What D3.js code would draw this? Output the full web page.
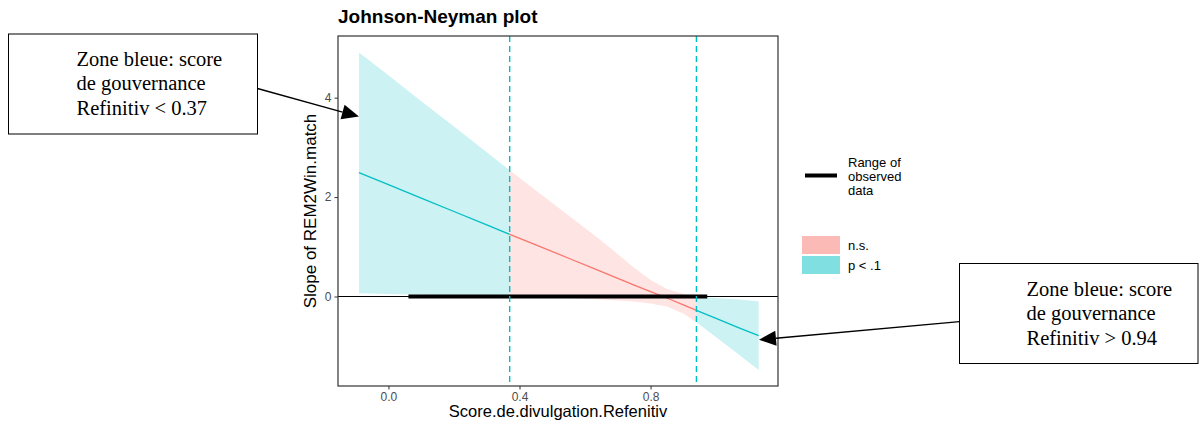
<!DOCTYPE html>
<html>
<head>
<meta charset="utf-8">
<script src="https://cdn.jsdelivr.net/npm/d3@7"></script>
<style>
  body { margin: 0; background: #fff; }
  svg { display: block; }
</style>
</head>
<body>
<div id="chart"></div>
<script>
// values
const modX   = [-0.09, 0.0, 0.1, 0.2, 0.3, 0.37, 0.45, 0.55, 0.65, 0.75, 0.8, 0.85, 0.9, 0.94, 1.0, 1.07, 1.13];
const slope  = [2.49, 2.25, 1.98, 1.71, 1.44, 1.25, 1.04, 0.77, 0.50, 0.23, 0.10, -0.03, -0.17, -0.28, -0.44, -0.63, -0.785];
const upper  = [4.91, 4.45, 3.93, 3.42, 2.90, 2.54, 2.13, 1.63, 1.12, 0.58, 0.33, 0.15, 0.05, 0.0, -0.03, -0.06, -0.095];
const lower  = [0.067, 0.05, 0.035, 0.02, 0.01, 0.0, -0.01, -0.03, -0.06, -0.10, -0.14, -0.20, -0.34, -0.52, -0.82, -1.17, -1.48];
const jnPoints = [0.37, 0.94];
const observedRange = [0.061, 0.973];
const xTicks = [0.0, 0.4, 0.8];
const yTicks = [0, 2, 4];
const sigLabels = ['n.s.', 'p < .1'];
const sigColors = ['#F8766D', '#00BFC4'];

const notes = [
    { lines: ['Zone bleue: score', 'de gouvernance', 'Refinitiv < 0.37'], target: [-0.09, 3.62] },
    { lines: ['Zone bleue: score', 'de gouvernance', 'Refinitiv > 0.94'], target: [1.131, -0.87] }
];

const width = 1199, height = 424;
const panel = { left: 338, right: 778, top: 36, bottom: 386 };

const svg = d3.select('#chart').append('svg')
    .attr('width', width)
    .attr('height', height)
    .style('font-family', 'Liberation Sans, Arial, sans-serif');

const x = d3.scaleLinear().domain([-0.154, 1.189]).range([panel.left, panel.right]);
const y = d3.scaleLinear().domain([-1.80, 5.24]).range([panel.bottom, panel.top]);

const rows = modX.map((d, i) => ({
    x: d, slope: slope[i], lo: lower[i], hi: upper[i]
}));

// three runs: significant / not / significant, sharing the JN points
const segments = [
    { sig: 1, data: rows.filter(d => d.x <= jnPoints[0]) },
    { sig: 0, data: rows.filter(d => d.x >= jnPoints[0] && d.x <= jnPoints[1]) },
    { sig: 1, data: rows.filter(d => d.x >= jnPoints[1]) }
];

const area = d3.area().x(d => x(d.x)).y0(d => y(d.lo)).y1(d => y(d.hi));
const line = d3.line().x(d => x(d.x)).y(d => y(d.slope));

const plot = svg.append('g');

plot.selectAll('.band')
    .data(segments)
    .join('path')
    .attr('class', 'band')
    .attr('d', d => area(d.data))
    .attr('fill', d => sigColors[d.sig])
    .attr('fill-opacity', 0.2);

plot.selectAll('.slope')
    .data(segments)
    .join('path')
    .attr('class', 'slope')
    .attr('d', d => line(d.data))
    .attr('fill', 'none')
    .attr('stroke', d => sigColors[d.sig])
    .attr('stroke-width', 1.3);

plot.append('line')
    .attr('x1', panel.left).attr('x2', panel.right)
    .attr('y1', y(0)).attr('y2', y(0))
    .attr('stroke', '#000')
    .attr('stroke-width', 1.1);

plot.append('line')
    .attr('x1', x(observedRange[0])).attr('x2', x(observedRange[1]))
    .attr('y1', y(0)).attr('y2', y(0))
    .attr('stroke', '#000')
    .attr('stroke-width', 4);

plot.selectAll('.jn')
    .data(jnPoints)
    .join('line')
    .attr('class', 'jn')
    .attr('x1', d => x(d)).attr('x2', d => x(d))
    .attr('y1', panel.top).attr('y2', panel.bottom)
    .attr('stroke', '#00BFC4')
    .attr('stroke-width', 1.4)
    .attr('stroke-dasharray', '6,4');

// panel border
svg.append('rect')
    .attr('x', panel.left).attr('y', panel.top)
    .attr('width', panel.right - panel.left)
    .attr('height', panel.bottom - panel.top)
    .attr('fill', 'none')
    .attr('stroke', '#333333')
    .attr('stroke-width', 1.2);

const xAxis = svg.append('g')
    .attr('transform', `translate(0,${panel.bottom})`)
    .call(d3.axisBottom(x).tickValues(xTicks).tickFormat(d3.format('.1f')).tickSize(3.5).tickPadding(3));

const yAxis = svg.append('g')
    .attr('transform', `translate(${panel.left},0)`)
    .call(d3.axisLeft(y).tickValues(yTicks).tickFormat(d3.format('d')).tickSize(3.5).tickPadding(3));

[xAxis, yAxis].forEach(g => {
    g.select('.domain').remove();
    g.selectAll('.tick line').attr('stroke', '#333333').attr('stroke-width', 1);
    g.selectAll('.tick text')
        .attr('fill', '#4D4D4D')
        .style('font-family', 'Liberation Sans, Arial, sans-serif')
        .style('font-size', '12px');
});

svg.append('text')
    .attr('x', panel.left)
    .attr('y', 23)
    .attr('font-size', 19)
    .attr('font-weight', 'bold')
    .text('Johnson-Neyman plot');

svg.append('text')
    .attr('x', (panel.left + panel.right) / 2)
    .attr('y', 417)
    .attr('text-anchor', 'middle')
    .attr('font-size', 16.5)
    .text('Score.de.divulgation.Refenitiv');

svg.append('text')
    .attr('transform', `translate(316,${(panel.top + panel.bottom) / 2}) rotate(-90)`)
    .attr('text-anchor', 'middle')
    .attr('font-size', 17)
    .text('Slope of REM2Win.match');

// legend
const legend = svg.append('g').attr('font-size', 13);

legend.append('line')
    .attr('x1', 805).attr('x2', 837)
    .attr('y1', 175.5).attr('y2', 175.5)
    .attr('stroke', '#000')
    .attr('stroke-width', 4);

legend.selectAll('.rangeText')
    .data(['Range of', 'observed', 'data'])
    .join('text')
    .attr('class', 'rangeText')
    .attr('x', 848)
    .attr('y', (d, i) => 166.5 + i * 14.3)
    .text(d => d);

const keys = legend.selectAll('.key')
    .data(sigLabels)
    .join('g')
    .attr('class', 'key')
    .attr('transform', (d, i) => `translate(802,${236 + i * 20})`);

keys.append('rect')
    .attr('width', 38).attr('height', 18)
    .attr('fill', (d, i) => sigColors[i])
    .attr('fill-opacity', 0.5);

keys.append('text')
    .attr('x', 46)
    .attr('y', 13.8)
    .text(d => d);

// annotation boxes with arrows
const boxes = [
    { x: 8.5, y: 34, w: 249, h: 100, textX: 76.5, firstBase: 65.7, from: [257.5, 88.5] },
    { x: 959.5, y: 263.5, w: 238.5, h: 100, textX: 1026.5, firstBase: 295.7, from: [959.5, 321.7] }
];

const ann = svg.append('g');

notes.forEach((n, i) => {
    const b = boxes[i];
    ann.append('rect')
        .attr('x', b.x).attr('y', b.y)
        .attr('width', b.w).attr('height', b.h)
        .attr('fill', '#fff')
        .attr('stroke', '#000')
        .attr('stroke-width', 1);

    ann.selectAll(null)
        .data(n.lines)
        .join('text')
        .attr('x', b.textX)
        .attr('y', (d, j) => b.firstBase + j * 24.4)
        .style('font-family', 'Liberation Serif, Times New Roman, serif')
        .style('font-size', '20.5px')
        .text(d => d);

    const tx = x(n.target[0]), ty = y(n.target[1]);
    const [fx, fy] = b.from;
    const ang = Math.atan2(ty - fy, tx - fx);
    const headLen = 17, headHalf = 7.5;
    const bx = tx - headLen * Math.cos(ang), by = ty - headLen * Math.sin(ang);

    ann.append('line')
        .attr('x1', fx).attr('y1', fy)
        .attr('x2', bx).attr('y2', by)
        .attr('stroke', '#000')
        .attr('stroke-width', 1.3);

    ann.append('path')
        .attr('d', `M${tx},${ty}` +
            `L${bx + headHalf * Math.sin(ang)},${by - headHalf * Math.cos(ang)}` +
            `L${bx - headHalf * Math.sin(ang)},${by + headHalf * Math.cos(ang)}Z`)
        .attr('fill', '#000');
});
</script>
</body>
</html>
